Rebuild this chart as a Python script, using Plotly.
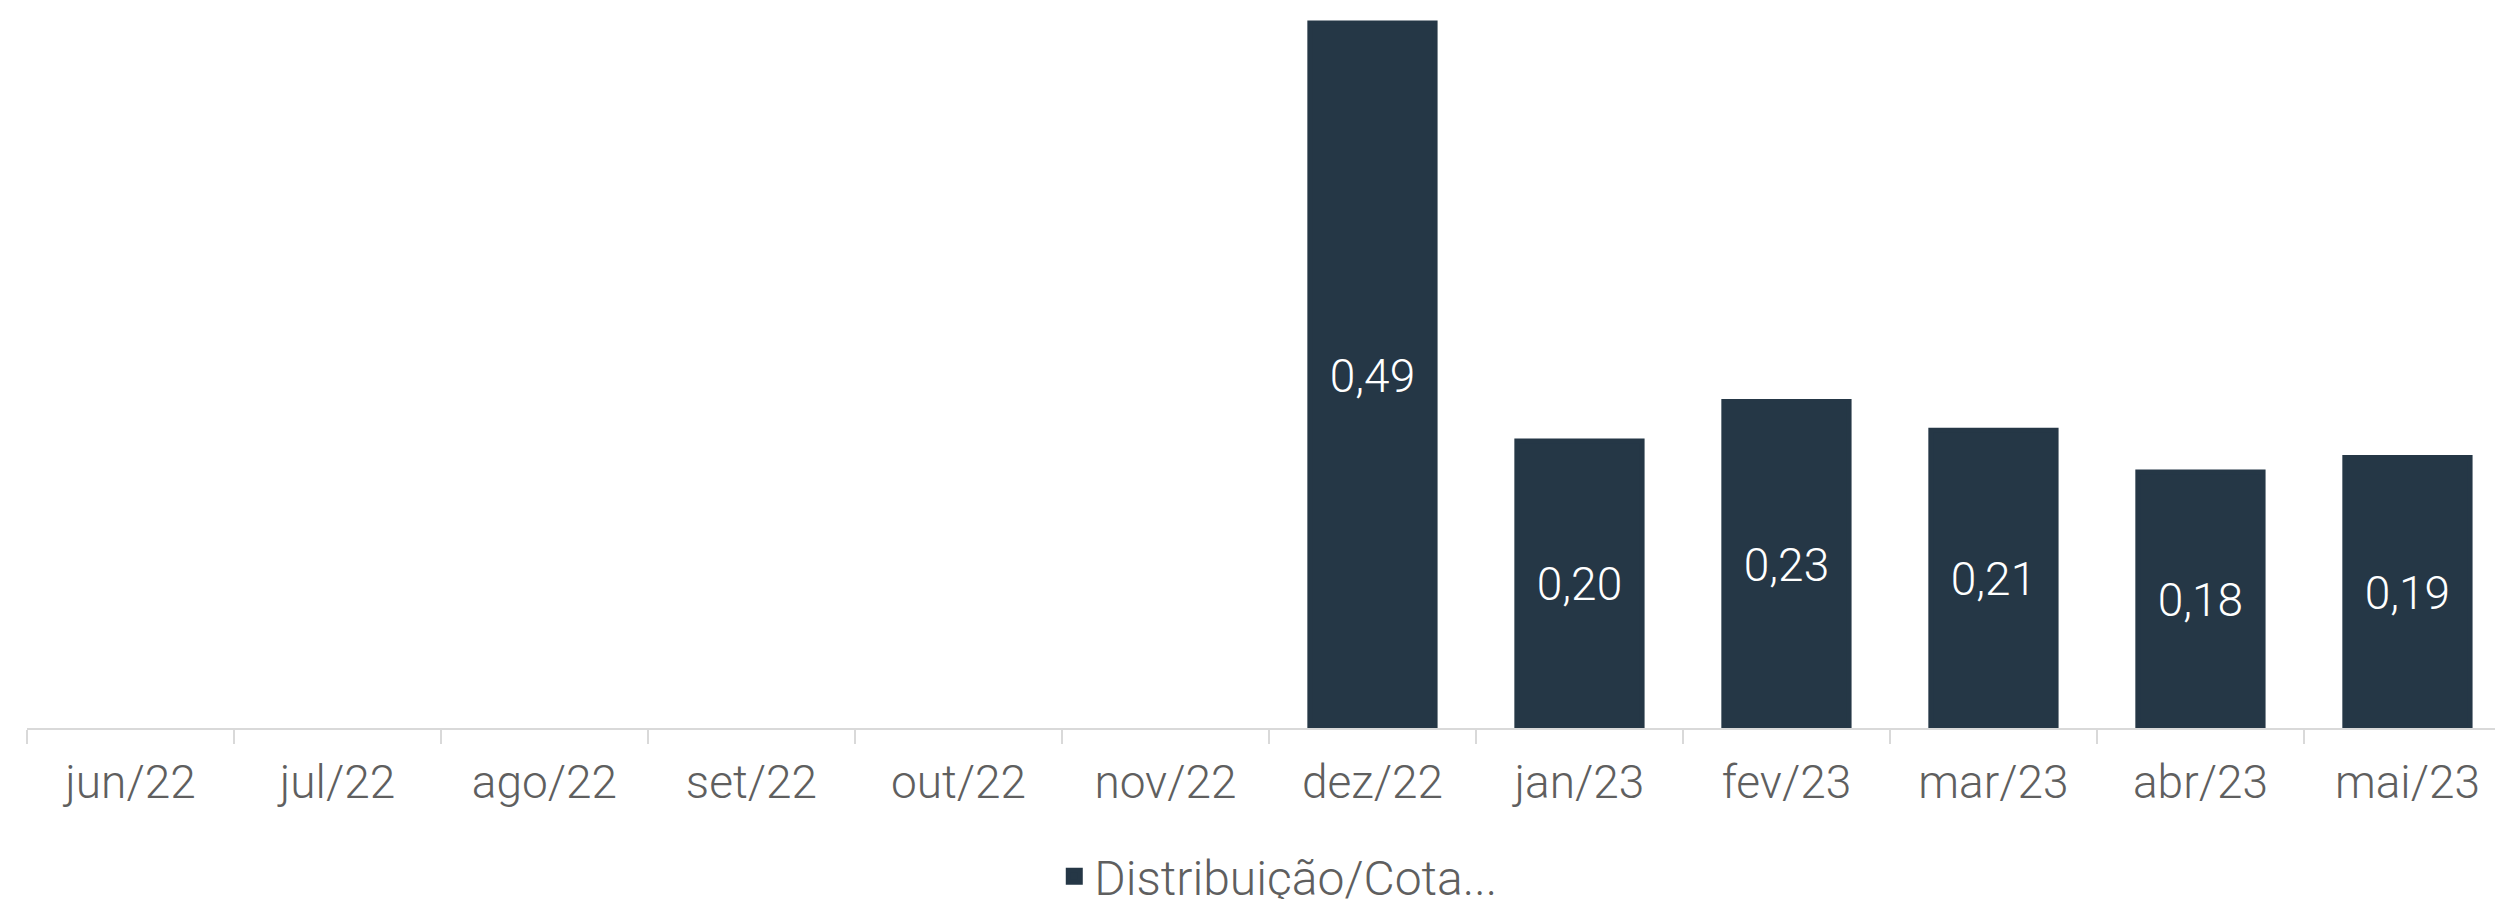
import plotly.graph_objects as go

months = ["jun/22", "jul/22", "ago/22", "set/22", "out/22", "nov/22",
          "dez/22", "jan/23", "fev/23", "mar/23", "abr/23", "mai/23"]
distribuicao = [None, None, None, None, None, None,
                0.49, 0.1995, 0.227, 0.207, 0.178, 0.188]
series_name = "Distribuição/Cota..."

bar_color = "#253746"
text_gray = "#5f5f5f"
axis_gray = "#d9d9d9"
font_family = "Roboto"

fig = go.Figure()
fig.add_trace(go.Bar(
    x=months,
    y=distribuicao,
    name=series_name,
    marker=dict(color=bar_color, line=dict(color=bar_color, width=5)),
    width=0.605,
    texttemplate="%{y:.2f}",
    textposition="inside",
    insidetextanchor="middle",
    textangle=0,
    insidetextfont=dict(family=font_family, size=46, color="white", weight=300),
    showlegend=True,
    hoverinfo="skip",
))

fig.update_layout(
    width=2495,
    height=899,
    margin=dict(l=27, r=0, t=0, b=171, autoexpand=False),
    paper_bgcolor="white",
    plot_bgcolor="white",
    separators=",.",
    font=dict(family=font_family, color=text_gray, size=46, weight=300),
    showlegend=True,
    legend=dict(
        orientation="h",
        x=0.507,
        xanchor="center",
        y=-0.152,
        yanchor="top",
        font=dict(family=font_family, size=48, color=text_gray, weight=300),
        itemclick=False,
        itemdoubleclick=False,
    ),
    bargap=0.4,
)

fig.update_xaxes(
    type="category",
    range=[-0.5, 11.423],
    showline=True,
    linecolor=axis_gray,
    linewidth=2,
    ticks="outside",
    tickson="boundaries",
    ticklen=14,
    tickwidth=2,
    tickcolor=axis_gray,
    ticklabelstandoff=13,
    showgrid=False,
    automargin=False,
    tickfont=dict(family=font_family, size=46, color=text_gray, weight=300),
    fixedrange=True,
)
fig.update_yaxes(
    range=[0, 0.506],
    visible=False,
    showgrid=False,
    zeroline=False,
    fixedrange=True,
)

fig.write_html(
    "out.html",
    config={"displayModeBar": False},
    post_script="document.body.style.margin='0';document.body.style.overflow='hidden';",
)
